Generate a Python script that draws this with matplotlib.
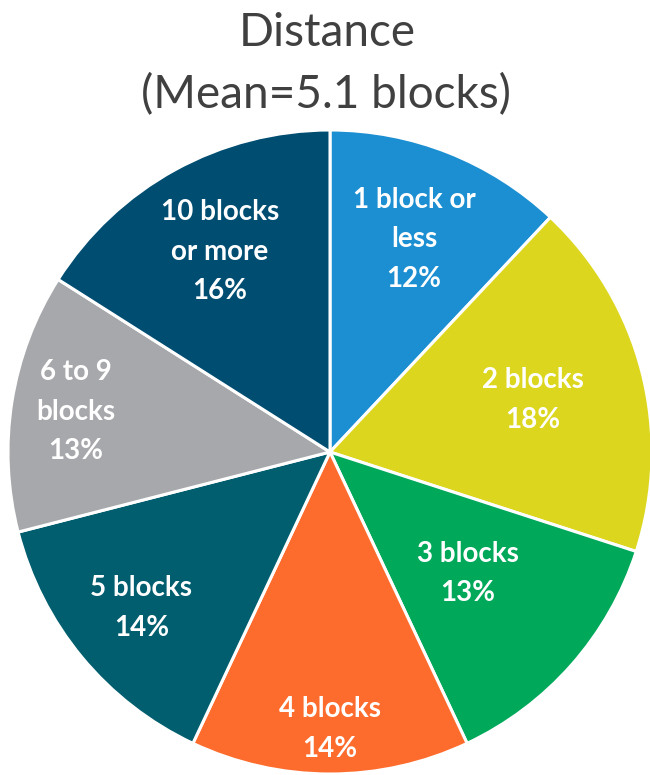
import numpy as np
import matplotlib.pyplot as plt

categories = ['1 block or\nless', '2 blocks', '3 blocks', '4 blocks',
              '5 blocks', '6 to 9\nblocks', '10 blocks\nor more']
shares = [12, 18, 13, 14, 14, 13, 16]
colors = ['#1b8fd1', '#dcd71e', '#00a85a', '#fe6c2d',
          '#005e6e', '#a7a8ab', '#004d72']
# radial position of each label (fraction of radius)
label_r = [0.71, 0.65, 0.57, 0.86, 0.76, 0.80, 0.71]

plt.rcParams['font.family'] = ['Lato', 'DejaVu Sans']

fig = plt.figure(figsize=(6.5, 7.75), dpi=100)
ax = fig.add_axes([8 / 650, 1 / 775, 644 / 650, 644 / 775])

wedges, _ = ax.pie(shares, colors=colors, startangle=90, counterclock=False,
                   wedgeprops=dict(edgecolor='white', linewidth=2.2))

for w, cat, v, r in zip(wedges, categories, shares, label_r):
    ang = np.deg2rad((w.theta1 + w.theta2) / 2)
    ax.text(r * np.cos(ang), r * np.sin(ang), f'{cat}\n{v}%',
            ha='center', va='center', color='white', fontsize=20,
            fontweight='bold', linespacing=1.65)

ax.set_xlim(-1, 1)
ax.set_ylim(-1, 1)
ax.set_aspect('equal')
ax.axis('off')

fig.text(0.503, 0.958, 'Distance', ha='center', va='center',
         fontsize=33, color='#404040')
fig.text(0.502, 0.878, '(Mean=5.1 blocks)', ha='center', va='center',
         fontsize=33, color='#404040')

fig.savefig('out.png', dpi=100)
